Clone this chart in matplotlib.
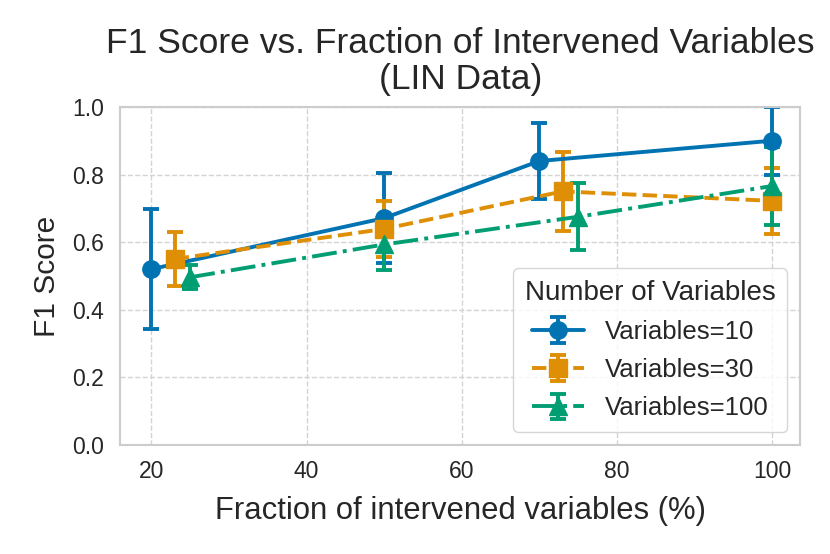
import matplotlib
matplotlib.use("Agg")
import matplotlib.pyplot as plt
import seaborn as sns

# values
x_10 = [20, 50, 70, 100]
f1_10 = [0.52, 0.671, 0.84, 0.90]
err_10 = [0.178, 0.133, 0.111, 0.10]

x_30 = [23, 50, 73, 100]
f1_30 = [0.55, 0.639, 0.75, 0.722]
err_30 = [0.081, 0.084, 0.116, 0.097]

x_100 = [25, 50, 75, 100]
f1_100 = [0.496, 0.593, 0.675, 0.766]
err_100 = [0.035, 0.075, 0.099, 0.115]

labels = ["Variables=10", "Variables=30", "Variables=100"]

sns.set_theme(style="whitegrid")
plt.rcParams["font.family"] = ["Liberation Sans", "DejaVu Sans"]
pal = sns.color_palette("colorblind")

fig, ax = plt.subplots(figsize=(8.3, 5.54), dpi=100)
fig.subplots_adjust(left=0.145, right=0.964, top=0.807, bottom=0.197)

series = [
    (x_10, f1_10, err_10, "o", "-", pal[0]),
    (x_30, f1_30, err_30, "s", "--", pal[1]),
    (x_100, f1_100, err_100, "^", "-.", pal[2]),
]
for (x, y, e, m, ls, c), lab in zip(series, labels):
    ax.errorbar(x, y, yerr=e, marker=m, linestyle=ls, color=c, label=lab,
                linewidth=2.8, markersize=12.5, capsize=5.5, capthick=2.8, elinewidth=2.8)

ax.set_xlim(16, 103.6)
ax.set_ylim(0, 1.0)
ax.set_xticks([20, 40, 60, 80, 100])
ax.set_yticks([0.0, 0.2, 0.4, 0.6, 0.8, 1.0])
ax.tick_params(labelsize=16.5, pad=6)
ax.tick_params(axis="x", pad=5)
ax.grid(True, linestyle="--", color="#d3d3d3", linewidth=1)
for s in ax.spines.values():
    s.set_color("#cccccc")
    s.set_linewidth(1.5)

ax.set_title("F1 Score vs. Fraction of Intervened Variables\n(LIN Data)", fontsize=25.5,
             linespacing=1.12, pad=13)
ax.set_xlabel("Fraction of intervened variables (%)", fontsize=22.3, labelpad=9)
ax.set_ylabel("F1 Score", fontsize=21.5, labelpad=8)

leg = ax.legend(title="Number of Variables", loc="lower right", fontsize=18.5,
                title_fontsize=20, frameon=True, borderpad=0.45, labelspacing=0.55,
                handletextpad=0.8)

fig.savefig("out.png", dpi=100)
